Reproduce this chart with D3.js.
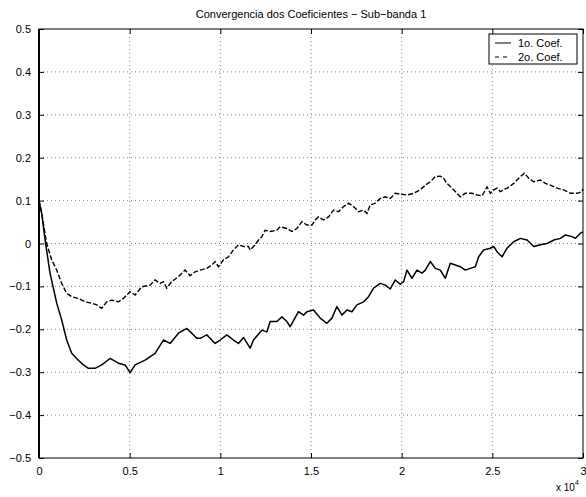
<!DOCTYPE html>
<html>
<head>
<meta charset="utf-8">
<script src="https://cdn.jsdelivr.net/npm/d3@7"></script>
<style>
  html, body { margin: 0; padding: 0; background: #fff; }
  svg text { font-family: "Liberation Sans", Arial, Helvetica, sans-serif; fill: #000; }
</style>
</head>
<body>
<svg id="chart" width="586" height="497"></svg>
<script>
// ---- data ----
const titleText = "Convergencia dos Coeficientes \u2212 Sub\u2212banda 1";
const seriesNames = ["1o. Coef.", "2o. Coef."];
const xTicks = [0, 5000, 10000, 15000, 20000, 25000, 30000];
const xTickLabels = ["0", "0.5", "1", "1.5", "2", "2.5", "3"];
const yTicks = [0.5, 0.4, 0.3, 0.2, 0.1, 0, -0.1, -0.2, -0.3, -0.4, -0.5];
const yTickLabels = ["0.5", "0.4", "0.3", "0.2", "0.1", "0", "\u22120.1", "\u22120.2", "\u22120.3", "\u22120.4", "\u22120.5"];

const coef1T = [0,150,331,607,977,1251,1527,1803,2171,2450,2723,3091,3459,3919,4379,4747,5023,5298,5850,6402,6862,7230,7690,8150,8426,8702,8886,9254,9713,9989,10357,10725,10999,11275,11645,11828,12290,12566,12749,13119,13395,13671,13853,14311,14587,14775,15139,15507,15876,16154,16429,16705,16981,17257,17533,17901,18174,18450,18820,19096,19372,19648,19924,20107,20291,20567,20843,21119,21303,21579,21855,22131,22407,22683,22959,23235,23511,23787,24063,24245,24521,24890,25074,25260,25536,25812,26180,26547,26916,27284,27650,28020,28385,28755,29030,29400,29582,29858,30000];
const coef1V = [0.1,0.07,0.01,-0.069,-0.139,-0.178,-0.225,-0.256,-0.272,-0.283,-0.291,-0.291,-0.283,-0.268,-0.279,-0.283,-0.301,-0.283,-0.272,-0.256,-0.225,-0.233,-0.209,-0.198,-0.209,-0.221,-0.221,-0.213,-0.233,-0.225,-0.213,-0.225,-0.233,-0.219,-0.244,-0.225,-0.202,-0.206,-0.182,-0.182,-0.171,-0.182,-0.194,-0.159,-0.167,-0.159,-0.155,-0.174,-0.186,-0.174,-0.147,-0.167,-0.155,-0.159,-0.143,-0.136,-0.124,-0.104,-0.093,-0.097,-0.106,-0.085,-0.095,-0.089,-0.062,-0.081,-0.062,-0.069,-0.062,-0.042,-0.058,-0.062,-0.081,-0.046,-0.050,-0.054,-0.062,-0.058,-0.054,-0.031,-0.015,-0.011,-0.007,-0.019,-0.031,-0.011,0.004,0.012,0.008,-0.007,-0.003,0.000,0.008,0.012,0.020,0.016,0.012,0.024,0.027];

const coef2T = [0,150,423,699,977,1251,1527,1803,2171,2539,2907,3183,3459,3735,4011,4379,4655,5023,5298,5667,6126,6402,6678,6862,7046,7322,7690,8058,8334,8610,8886,9254,9530,9713,9897,10173,10449,10725,10999,11275,11551,11645,11921,12103,12290,12473,12749,13119,13301,13671,13946,14222,14498,14775,15050,15233,15415,15691,15967,16243,16518,16794,17070,17346,17622,17901,18086,18265,18545,18820,19096,19372,19648,19924,20291,20659,21027,21303,21579,21855,22131,22315,22499,22775,23051,23235,23511,23880,24157,24433,24709,24890,25074,25260,25443,25812,26180,26547,26768,27004,27284,27650,27926,28202,28570,28938,29306,29674,29950,30000];
const coef2V = [0.1,0.07,0.0,-0.038,-0.062,-0.093,-0.116,-0.124,-0.128,-0.136,-0.139,-0.143,-0.151,-0.136,-0.132,-0.136,-0.128,-0.112,-0.120,-0.101,-0.097,-0.085,-0.093,-0.089,-0.104,-0.089,-0.077,-0.062,-0.075,-0.066,-0.062,-0.058,-0.050,-0.042,-0.054,-0.038,-0.031,-0.015,-0.003,-0.007,-0.007,-0.015,-0.003,0.008,0.016,0.031,0.028,0.031,0.039,0.035,0.028,0.035,0.051,0.043,0.043,0.055,0.062,0.055,0.062,0.078,0.074,0.086,0.094,0.086,0.074,0.078,0.070,0.090,0.094,0.105,0.109,0.105,0.117,0.115,0.113,0.117,0.125,0.136,0.144,0.156,0.157,0.152,0.140,0.129,0.117,0.109,0.117,0.117,0.113,0.111,0.132,0.117,0.125,0.129,0.121,0.129,0.140,0.156,0.164,0.152,0.144,0.148,0.140,0.136,0.129,0.125,0.117,0.117,0.121,0.127];

// ---- layout ----
const svg = d3.select("#chart");
const L = 39, R = 583, T = 29, B = 458;
const x = d3.scaleLinear().domain([0, 30000]).range([L, R]);
const y = d3.scaleLinear().domain([-0.5, 0.5]).range([B, T]);

// grid
const grid = svg.append("g").attr("stroke", "#666").attr("stroke-width", 0.8).attr("stroke-dasharray", "1,3");
xTicks.slice(1, -1).forEach(t => grid.append("line").attr("x1", x(t)).attr("x2", x(t)).attr("y1", T).attr("y2", B));
yTicks.slice(1, -1).forEach(t => grid.append("line").attr("x1", L).attr("x2", R).attr("y1", y(t)).attr("y2", y(t)));

// axes (ticks inward, labels)
const xAxis = d3.axisBottom(x).tickValues(xTicks).tickFormat((d, i) => xTickLabels[i]).tickSizeInner(-5).tickSizeOuter(0).tickPadding(9);
const gx = svg.append("g").attr("transform", `translate(0,${B})`).call(xAxis);
const xAxisTop = d3.axisTop(x).tickValues(xTicks).tickFormat("").tickSizeInner(-5).tickSizeOuter(0);
const gxt = svg.append("g").attr("transform", `translate(0,${T})`).call(xAxisTop);
const yAxis = d3.axisLeft(y).tickValues(yTicks).tickFormat((d, i) => yTickLabels[i]).tickSizeInner(-5).tickSizeOuter(0).tickPadding(8);
const gy = svg.append("g").attr("transform", `translate(${L},0)`).call(yAxis);
const yAxisR = d3.axisRight(y).tickValues(yTicks).tickFormat("").tickSizeInner(-5).tickSizeOuter(0);
const gyr = svg.append("g").attr("transform", `translate(${R},0)`).call(yAxisR);
[gx, gxt, gy, gyr].forEach(g => {
  g.select(".domain").remove();
  g.selectAll(".tick line").attr("stroke", "#000").attr("stroke-width", 1);
  g.selectAll("text").attr("font-size", 11).attr("font-family", "Liberation Sans, Arial, sans-serif").attr("fill", "#000");
});

// box
svg.append("rect").attr("x", L).attr("y", T).attr("width", R - L).attr("height", B - T)
  .attr("fill", "none").attr("stroke", "#000").attr("stroke-width", 1);
svg.append("line").attr("x1", L).attr("x2", L).attr("y1", T).attr("y2", B).attr("stroke", "#000").attr("stroke-width", 2);

// lines
const line = d3.line().x(d => x(d[0])).y(d => y(d[1]));
const d1 = coef1T.map((t, i) => [t, coef1V[i]]);
const d2 = coef2T.map((t, i) => [t, coef2V[i]]);
svg.append("path").datum(d1).attr("d", line).attr("fill", "none").attr("stroke", "#000").attr("stroke-width", 1.5).attr("stroke-linejoin", "round");
svg.append("path").datum(d2).attr("d", line).attr("fill", "none").attr("stroke", "#000").attr("stroke-width", 1.4).attr("stroke-dasharray", "5,2");

// title
svg.append("text").attr("x", 311).attr("y", 18).attr("text-anchor", "middle").attr("font-size", 11).text(titleText);

// exponent label
const ex = svg.append("text").attr("x", 556).attr("y", 491).attr("font-size", 10);
ex.append("tspan").text("x 10");
ex.append("tspan").attr("dy", -6).attr("font-size", 7).text("4");

// legend
const lg = svg.append("g");
lg.append("rect").attr("x", 489).attr("y", 34).attr("width", 88).attr("height", 30).attr("fill", "#fff").attr("stroke", "#000").attr("stroke-width", 1);
[0, 1].forEach(i => {
  const yy = 43 + i * 14;
  lg.append("line").attr("x1", 495).attr("x2", 511).attr("y1", yy).attr("y2", yy).attr("stroke", "#000").attr("stroke-width", 1)
    .attr("stroke-dasharray", i === 1 ? "4,4" : null);
  lg.append("text").attr("x", 518).attr("y", yy + 4).attr("font-size", 11).text(seriesNames[i]);
});
</script>
</body>
</html>
